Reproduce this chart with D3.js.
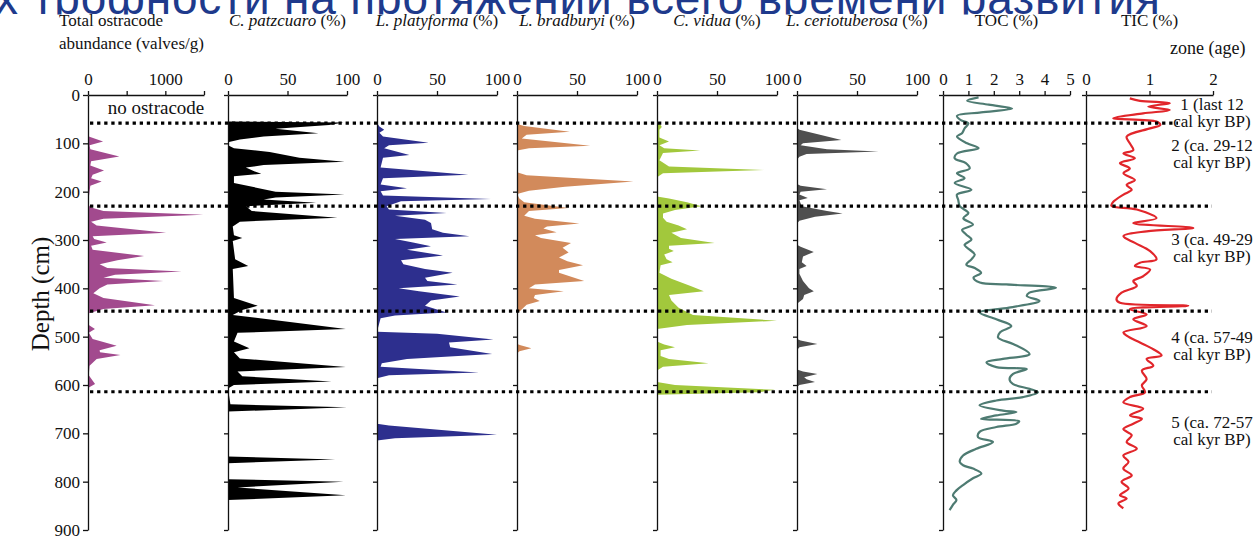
<!DOCTYPE html>
<html>
<head>
<meta charset="utf-8">
<script src="https://d3js.org/d3.v7.min.js"></script>
<style>
body { margin: 0; background: #fff; }
svg { display: block; }
</style>
</head>
<body>
<div id="chart"></div>
<script>
// depth (cm), value pairs
var depthTicks = [0, 100, 200, 300, 400, 500, 600, 700, 800, 900];
var zoneDepths = [58, 230, 447, 614];
var zoneLabels = [["1 (last 12", "cal kyr BP)"], ["2 (ca. 29-12", "cal kyr BP)"], ["3 (ca. 49-29", "cal kyr BP)"], ["4 (ca. 57-49", "cal kyr BP)"], ["5 (ca. 72-57", "cal kyr BP)"]];
var zoneLabelDepths = [48.5, 133, 328, 530.5, 706];
var speciesNames = ["C. patzcuaro", "L. platyforma", "L. bradburyi", "C. vidua", "L. ceriotuberosa"];
var proxyNames = ["TOC", "TIC"];

var abundance = [[0,0],[60,0],[86,10],[96,195],[104,20],[112,30],[127,405],[137,40],[146,30],[156,207],[165,60],[172,40],[179,177],[188,30],[200,20],[225,0],[232,30],[240,200],[248,1490],[256,200],[262,40],[270,112],[285,1010],[292,60],[298,80],[305,242],[312,40],[320,60],[333,725],[342,380],[350,150],[358,250],[365,1212],[372,350],[378,200],[385,975],[392,250],[400,150],[410,69],[420,200],[435,866],[443,200],[452,0],[475,0],[484,90],[492,10],[505,60],[519,371],[528,150],[532,155],[538,420],[546,112],[560,20],[580,10],[598,91],[606,0],[900,0]];
var patzcuaro = [[0,0],[55,0],[57,97],[62,85],[70,40],[79,76],[86,30],[92,10],[98,0],[104,0],[110,5],[118,35],[130,60],[138,98],[145,30],[150,15],[158,22],[163,28],[168,5],[182,5],[200,40],[206,98],[212,40],[216,30],[223,74],[230,15],[240,20],[254,92],[262,10],[272,4],[290,5],[296,12],[302,4],[340,6],[354,17],[360,4],[420,5],[436,25],[445,12],[455,4],[484,99],[492,8],[510,5],[524,18],[532,5],[545,10],[563,99],[572,8],[582,12],[593,87],[600,5],[607,0],[640,2],[646,100],[655,0],[748,0],[754,90],[762,0],[795,0],[800,97],[812,8],[828,99],[838,0],[900,0]];
var platyforma = [[0,0],[58,0],[65,2],[72,6],[78,2],[86,5],[99,43],[104,10],[110,6],[124,27],[130,5],[150,3],[165,76],[172,5],[185,3],[193,25],[199,3],[208,5],[215,95],[220,20],[230,8],[237,10],[244,58],[250,15],[258,40],[265,45],[278,46],[285,55],[292,77],[298,15],[305,30],[313,45],[320,25],[332,55],[342,20],[350,22],[360,40],[368,63],[378,40],[385,42],[392,67],[400,18],[406,35],[417,69],[425,45],[436,40],[450,58],[456,15],[462,3],[490,0],[494,50],[506,97],[512,60],[522,61],[536,96],[546,25],[555,4],[562,3],[574,85],[580,10],[586,0],[680,0],[684,10],[703,100],[710,15],[715,0],[900,0]];
var bradburyi = [[0,0],[60,0],[64,6],[76,44],[82,8],[90,4],[105,61],[110,10],[115,0],[160,0],[166,8],[179,97],[190,40],[198,10],[205,0],[214,2],[222,6],[234,43],[240,10],[250,6],[256,15],[266,52],[272,25],[276,22],[284,33],[290,15],[296,20],[306,45],[316,38],[326,43],[336,35],[344,42],[352,55],[362,35],[368,35],[385,56],[392,15],[400,10],[406,39],[414,15],[420,14],[426,19],[434,8],[446,3],[452,0],[515,0],[518,3],[524,12],[530,2],[535,0],[900,0]];
var vidua = [[0,0],[58,0],[62,3],[66,4],[72,2],[88,2],[96,10],[104,2],[110,6],[115,36],[120,5],[135,2],[148,10],[155,89],[162,5],[170,0],[210,0],[214,10],[222,25],[230,37],[238,15],[245,5],[254,5],[262,8],[270,18],[278,25],[285,12],[296,20],[306,48],[312,10],[318,10],[323,14],[330,6],[340,8],[346,13],[352,3],[368,2],[380,12],[395,28],[406,39],[414,10],[425,12],[440,18],[455,30],[467,100],[476,25],[484,0],[510,0],[516,6],[522,15],[528,3],[540,3],[546,10],[555,43],[562,5],[570,0],[594,0],[600,15],[610,98],[615,85],[620,0],[900,0]];
var ceriotuberosa = [[0,0],[68,0],[72,2],[83,20],[93,37],[100,5],[104,3],[112,25],[117,68],[122,8],[128,2],[134,0],[184,0],[188,3],[195,25],[200,3],[206,2],[213,9],[218,2],[230,4],[240,25],[245,38],[252,15],[260,2],[266,0],[310,0],[314,3],[325,14],[334,5],[346,4],[354,8],[360,2],[370,2],[385,5],[400,10],[406,14],[414,6],[422,5],[432,0],[505,0],[508,3],[515,17],[522,2],[528,0],[568,0],[572,5],[577,17],[584,6],[588,8],[594,15],[600,2],[604,0],[900,0]];
var toc = [[5,1.4],[12,0.95],[20,1.8],[28,2.72],[36,1.5],[43,0.55],[52,0.7],[59,1.0],[69,0.85],[79,0.75],[86,0.55],[100,0.95],[110,1.4],[121,0.55],[131,0.46],[141,0.9],[152,1.05],[162,0.55],[172,0.85],[182,0.46],[196,1.12],[206,0.55],[217,0.6],[230,0.66],[244,1.0],[255,0.8],[268,1.18],[279,0.75],[289,0.92],[299,1.12],[310,0.85],[320,1.05],[330,1.25],[340,1.12],[351,0.92],[358,1.25],[368,1.5],[378,1.2],[388,1.45],[392,2.5],[399,4.45],[409,3.4],[416,3.3],[426,3.8],[440,2.6],[450,1.44],[464,2.1],[478,2.69],[491,2.25],[502,2.17],[515,2.76],[536,3.41],[546,2.36],[553,1.71],[563,2.1],[567,3.3],[577,2.76],[588,2.62],[598,2.76],[608,3.41],[615,3.74],[625,3.15],[632,2.1],[642,1.44],[653,2.36],[656,2.89],[663,2.1],[670,1.5],[675,3.0],[680,2.89],[687,2.1],[697,1.44],[708,1.38],[718,1.97],[732,1.31],[746,0.79],[759,0.66],[766,0.79],[773,1.18],[783,1.51],[793,1.18],[807,0.79],[818,0.53],[828,0.39],[838,0.53],[848,0.39],[859,0.26]];
var tic = [[7,0.69],[12,0.85],[17,1.32],[24,0.98],[31,1.32],[38,0.9],[48,0.43],[55,1.11],[62,1.17],[69,1.01],[86,0.64],[100,0.69],[114,0.745],[121,0.59],[131,0.77],[141,0.535],[152,0.69],[162,0.59],[176,0.77],[186,0.64],[196,0.72],[206,0.59],[221,0.43],[229,0.40],[237,0.8],[255,1.11],[265,0.745],[275,1.69],[282,0.955],[292,0.59],[306,0.77],[323,1.01],[340,1.11],[347,0.85],[354,0.77],[361,1.01],[375,0.9],[385,0.745],[395,0.8],[409,0.56],[423,0.48],[430,0.535],[436,1.61],[443,0.69],[454,0.955],[464,0.745],[478,0.955],[491,0.59],[498,0.64],[512,0.85],[526,1.06],[539,1.19],[546,0.955],[560,1.06],[570,0.88],[588,0.955],[601,0.88],[615,0.93],[625,0.693],[636,0.588],[649,0.9],[663,0.693],[670,0.88],[680,0.745],[691,0.588],[704,0.72],[718,0.64],[732,0.8],[746,0.588],[759,0.67],[773,0.588],[787,0.72],[800,0.56],[814,0.67],[828,0.535],[835,0.64],[845,0.51],[855,0.588]];

var width = 1253;
var height = 536;
var serif = "'Liberation Serif', 'Times New Roman', serif";

var panels = [
    {data: abundance, domain: [0, 1500], range: [88, 204], ticks: [0, 500, 1000, 1500], labels: [0, 1000], color: "#a24a8e", kind: "area"},
    {data: patzcuaro, domain: [0, 100], range: [228, 347], ticks: [0, 50, 100], labels: [0, 50, 100], color: "#000000", kind: "area", name: speciesNames[0], italic: true},
    {data: platyforma, domain: [0, 100], range: [377, 497], ticks: [0, 50, 100], labels: [0, 50, 100], color: "#2d2f8e", kind: "area", name: speciesNames[1], italic: true},
    {data: bradburyi, domain: [0, 100], range: [517, 637], ticks: [0, 50, 100], labels: [0, 50, 100], color: "#d28a5b", kind: "area", name: speciesNames[2], italic: true},
    {data: vidua, domain: [0, 100], range: [657, 777], ticks: [0, 50, 100], labels: [0, 50, 100], color: "#a2c83c", kind: "area", name: speciesNames[3], italic: true},
    {data: ceriotuberosa, domain: [0, 100], range: [797, 917], ticks: [0, 50, 100], labels: [0, 50, 100], color: "#4f4f4f", kind: "area", name: speciesNames[4], italic: true},
    {data: toc, domain: [0, 5], range: [943, 1070], ticks: [0, 1, 2, 3, 4, 5], labels: [0, 1, 2, 3, 4, 5], color: "#4e7b72", kind: "line", name: proxyNames[0]},
    {data: tic, domain: [0, 2], range: [1086, 1213], ticks: [0, 1, 2], labels: [0, 1, 2], color: "#e1262b", kind: "line", name: proxyNames[1]}
];

var svg = d3.select("#chart").append("svg")
    .attr("width", width).attr("height", height)
    .style("background", "#fff");

// cut-off slide heading behind the figure
svg.append("clipPath").attr("id", "headClip")
    .append("rect").attr("x", 0).attr("y", 0).attr("width", width).attr("height", 14.5);
svg.append("text")
    .attr("clip-path", "url(#headClip)")
    .attr("x", -5).attr("y", 14)
    .attr("textLength", 1165).attr("lengthAdjust", "spacing")
    .attr("font-family", "'Liberation Sans', Arial, sans-serif")
    .attr("font-size", 46)
    .attr("fill", "#1e3a8c")
    .text("х трофности на протяжении всего времени развития");

var y = d3.scaleLinear().domain([0, 900]).range([95, 530]);

panels.forEach(function(p, i) {
    var x = d3.scaleLinear().domain(p.domain).range(p.range);
    var g = svg.append("g");

    if (p.kind == "area") {
        var area = d3.area()
            .x0(x(0))
            .x1(function(d) { return x(d[1]); })
            .y(function(d) { return y(d[0]); });
        g.append("path").datum(p.data).attr("d", area).attr("fill", p.color);
    } else {
        var line = d3.line()
            .x(function(d) { return x(d[1]); })
            .y(function(d) { return y(d[0]); })
            .curve(d3.curveCatmullRom.alpha(0.5));
        g.append("path").datum(p.data).attr("d", line)
            .attr("fill", "none").attr("stroke", p.color).attr("stroke-width", 2.2)
            .attr("stroke-linejoin", "round");
    }

    var top = g.append("g").attr("transform", "translate(0," + y(0) + ")")
        .call(d3.axisTop(x).tickValues(p.ticks).tickSizeInner(4).tickSizeOuter(0).tickPadding(6)
            .tickFormat(function(v) { return p.labels.indexOf(v) >= 0 ? v : ""; }));

    var left = g.append("g").attr("transform", "translate(" + x(0) + ",0)")
        .call(d3.axisLeft(y).tickValues(depthTicks).tickSizeInner(i == 0 ? 5 : 4).tickSizeOuter(0).tickPadding(3)
            .tickFormat(function(v) { return i == 0 ? v : ""; }));

    [top, left].forEach(function(a) {
        a.attr("font-family", serif).attr("font-size", 17);
        a.selectAll("path, line").attr("stroke", "#111").attr("stroke-width", 1.3);
        a.selectAll("text").attr("fill", "#111");
    });

    // column titles
    if (i == 0) {
        svg.append("text").attr("x", 59).attr("y", 26)
            .attr("font-family", serif).attr("font-size", 17).attr("fill", "#111")
            .text("Total ostracode");
        svg.append("text").attr("x", 59).attr("y", 49)
            .attr("font-family", serif).attr("font-size", 17).attr("fill", "#111")
            .text("abundance (valves/g)");
    } else {
        var t = svg.append("text")
            .attr("x", (p.range[0] + p.range[1]) / 2).attr("y", 26)
            .attr("text-anchor", "middle")
            .attr("font-family", serif).attr("font-size", 17).attr("fill", "#111");
        t.append("tspan").attr("font-style", p.italic ? "italic" : "normal").text(p.name);
        t.append("tspan").text(" (%)");
    }
});

// zone boundaries
var zoneEnds = [1178, 1212, 1212, 1212];
svg.selectAll(".zone").data(zoneDepths).enter().append("line")
    .attr("class", "zone")
    .attr("x1", 90).attr("x2", function(d, i) { return zoneEnds[i]; })
    .attr("y1", function(d) { return y(d); }).attr("y2", function(d) { return y(d); })
    .attr("stroke", "#000").attr("stroke-width", 3.2)
    .attr("stroke-dasharray", "3.3,3.8");

svg.append("text").attr("x", 156).attr("y", 114)
    .attr("text-anchor", "middle")
    .attr("font-family", serif).attr("font-size", 19).attr("fill", "#111")
    .text("no ostracode");

svg.append("text").attr("x", 1170).attr("y", 54)
    .attr("font-family", serif).attr("font-size", 18).attr("fill", "#111")
    .text("zone (age)");

zoneLabels.forEach(function(lbl, i) {
    var t = svg.append("text")
        .attr("x", 1212).attr("y", y(zoneLabelDepths[i]) - 8.5)
        .attr("text-anchor", "middle")
        .attr("font-family", serif).attr("font-size", 17).attr("fill", "#111");
    t.append("tspan").text(lbl[0]);
    t.append("tspan").attr("x", 1212).attr("dy", 17).text(lbl[1]);
});

svg.append("text")
    .attr("transform", "translate(49," + 294 + ") rotate(-90)")
    .attr("text-anchor", "middle")
    .attr("font-family", serif).attr("font-size", 25).attr("fill", "#111")
    .text("Depth (cm)");
</script>
</body>
</html>
